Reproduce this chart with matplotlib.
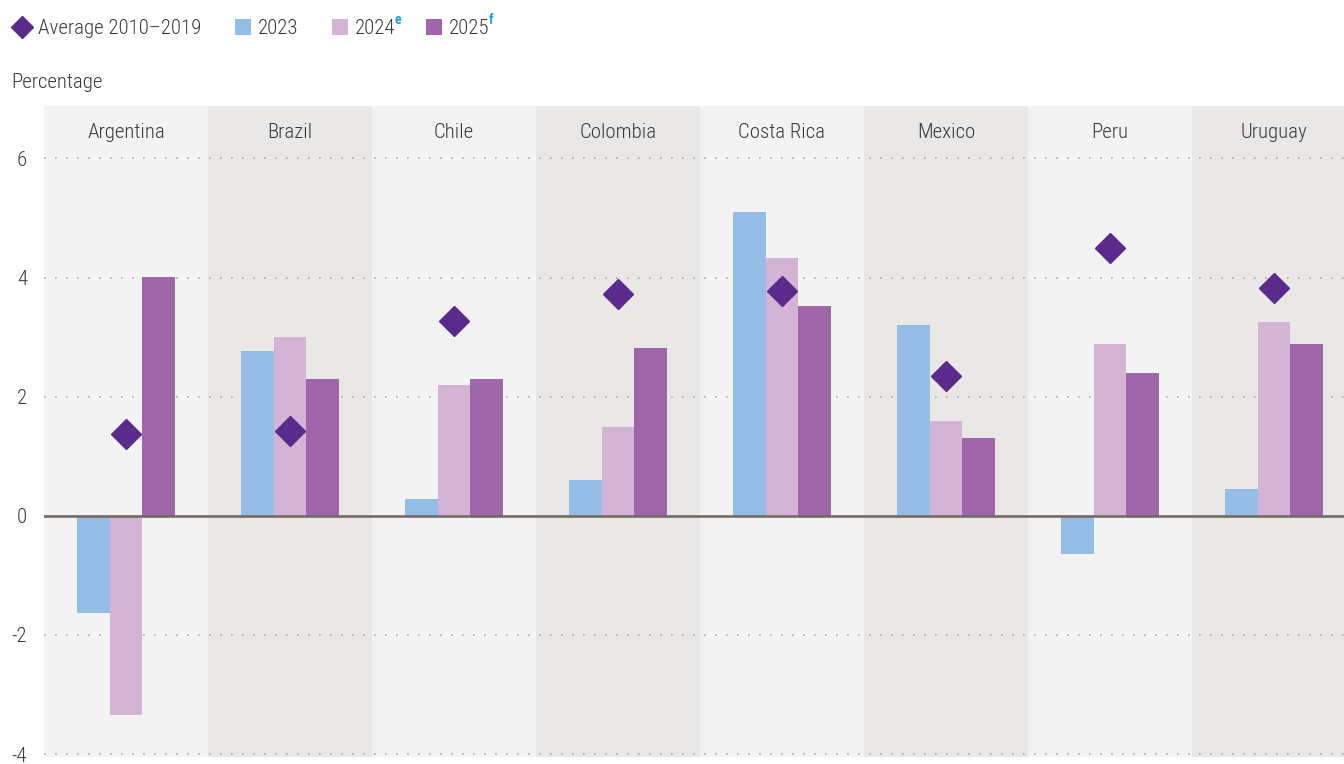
import matplotlib
matplotlib.use("Agg")
import matplotlib.pyplot as plt
from matplotlib import font_manager
from matplotlib.patches import Rectangle
from matplotlib.lines import Line2D
import numpy as np

# ---- data ----
countries = ["Argentina", "Brazil", "Chile", "Colombia", "Costa Rica", "Mexico", "Peru", "Uruguay"]
avg_2010_2019 = [1.37, 1.42, 3.27, 3.72, 3.77, 2.34, 4.50, 3.82]
g2023 = [-1.63, 2.77, 0.28, 0.60, 5.10, 3.20, -0.64, 0.45]
g2024 = [-3.35, 3.00, 2.20, 1.49, 4.33, 1.59, 2.89, 3.26]
g2025 = [4.01, 2.30, 2.30, 2.82, 3.52, 1.31, 2.40, 2.89]
yticks = [-4, -2, 0, 2, 4, 6]
ytick_labels = ["-4", "-2", "0", "2", "4", "6"]

# ---- style ----
names = {f.name for f in font_manager.fontManager.ttflist}
FONT = "Roboto Condensed" if "Roboto Condensed" in names else "Roboto"
plt.rcParams["font.family"] = [FONT, "DejaVu Sans"]
plt.rcParams["font.weight"] = "light"

C23 = "#94BDE5"
C24 = "#D3B4D4"
C25 = "#A066AA"
CAVG = "#5A2A8C"
BG1 = "#F3F3F3"
BG2 = "#E9E8E6"
TXT = "#3a3a3a"
SUP = "#1BA1DE"
FS = 15

W, H = 1344, 764
fig = plt.figure(figsize=(W / 100, H / 100), dpi=100)
fig.patch.set_facecolor("white")

def fx(x):
    return x / W

def fy(y):
    return 1 - y / H

ax = fig.add_axes([fx(44), fy(757), (1356 - 44) / W, (757 - 106) / H])
ax.set_xlim(-0.5, len(countries) - 0.5)
ax.set_ylim(-4.05, 6.88)

x = np.arange(len(countries))
for i in x:
    ax.axvspan(i - 0.5, i + 0.5, color=BG1 if i % 2 == 0 else BG2, lw=0, zorder=0)

for t in [-4, -2, 2, 4, 6]:
    ax.axhline(t, color="#a9a6a3", lw=1.2, ls=(0, (1, 5.6)), zorder=1)

bw = 0.2
ax.bar(x - bw, g2023, bw, color=C23, zorder=2, lw=0)
ax.bar(x, g2024, bw, color=C24, zorder=2, lw=0)
ax.bar(x + bw, g2025, bw, color=C25, zorder=2, lw=0)
ax.axhline(0, color="#756A65", lw=1.9, zorder=3)
ax.plot(x, avg_2010_2019, ls="none", marker="D", ms=15.5, color=CAVG, zorder=4)

for i, name in enumerate(countries):
    ax.text(i, 6.43, name, ha="center", va="center", fontsize=FS, color=TXT, zorder=5)

ax.set_yticks(yticks)
ax.set_yticklabels(ytick_labels, fontsize=FS, color=TXT)
ax.tick_params(axis="y", length=0, pad=12)
ax.set_xticks([])
for s in ax.spines.values():
    s.set_visible(False)

# ---- legend ----
fig.add_artist(Line2D([fx(22)], [fy(27)], marker="D", ms=11, color=CAVG, ls="none",
                      transform=fig.transFigure))
fig.text(fx(38), fy(28.5), "Average 2010\u20132019", fontsize=FS, color=TXT, va="center", ha="left")

renderer = fig.canvas.get_renderer()
items = [(235, "2023", C23, None), (332, "2024", C24, "e"), (426, "2025", C25, "f")]
for px, lab, col, sup in items:
    fig.add_artist(Rectangle((fx(px), fy(35)), 16 / W, 16 / H, color=col, lw=0,
                             transform=fig.transFigure))
    t = fig.text(fx(px + 23), fy(28.5), lab, fontsize=FS, color=TXT, va="center", ha="left")
    if sup:
        bb = t.get_window_extent(renderer)
        fig.text(bb.x1 / W - 0.0006, fy(20), sup, fontsize=10, color=SUP,
                 fontweight="bold", va="center", ha="left")

fig.text(fx(11), fy(82), "Percentage", fontsize=FS, color=TXT, va="center", ha="left")

fig.savefig("out.png", dpi=100)
